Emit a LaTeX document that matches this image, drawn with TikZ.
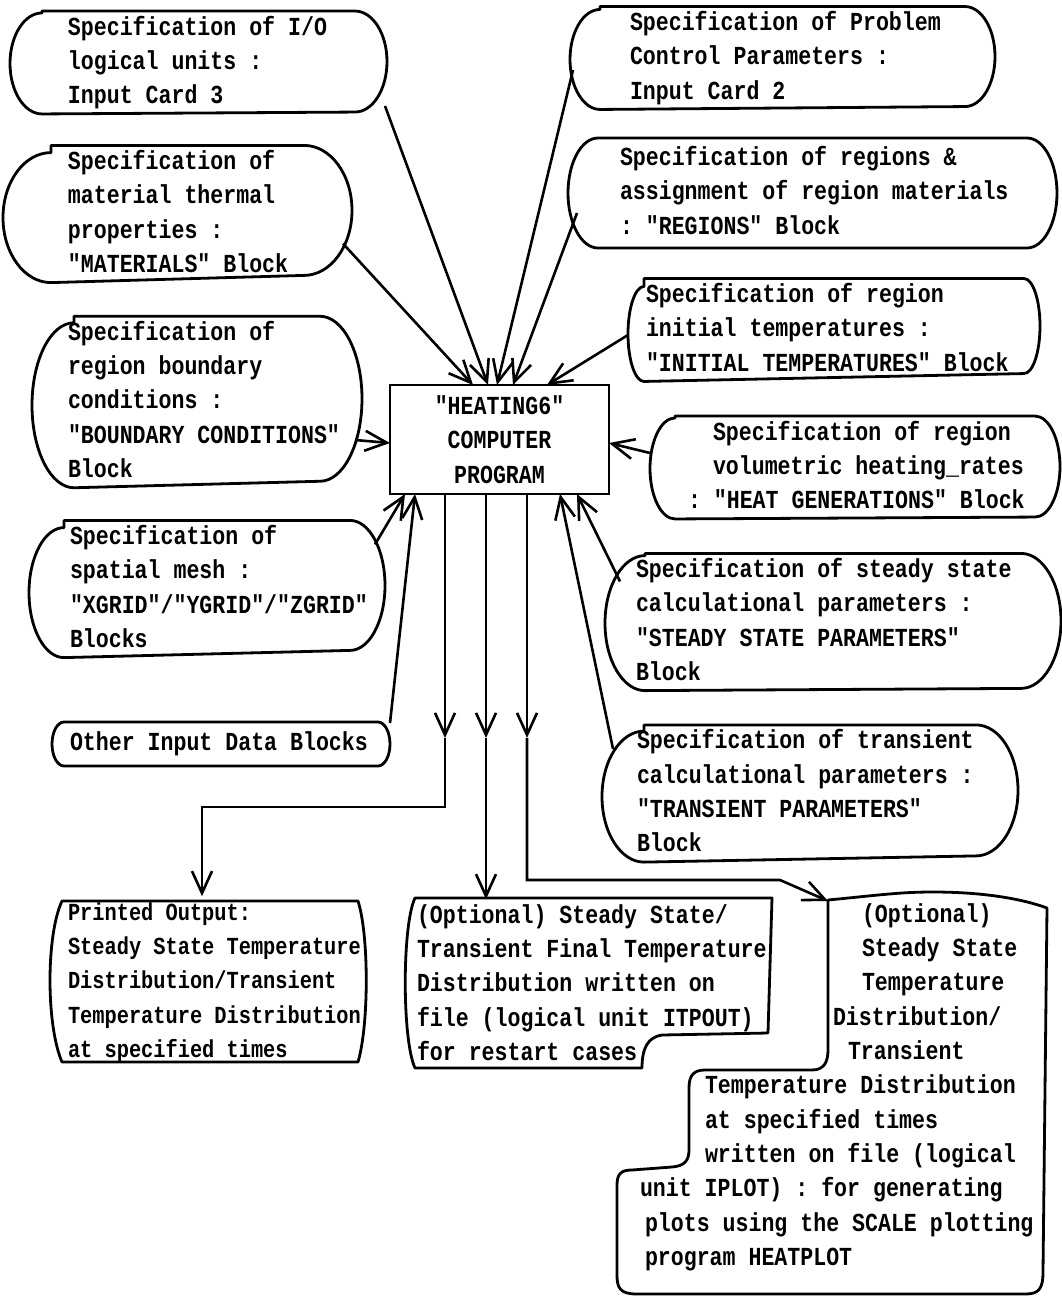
\documentclass[tikz,border=0pt]{standalone}
\usepackage{fontspec}
\setmonofont[FakeStretch=0.83]{Liberation Mono}
\usetikzlibrary{arrows.meta,calc}
\newcommand\boxtext[3]{\makebox[#1pt][l]{\hspace*{#2pt}\begin{tabular}[c]{@{}l@{}}#3\end{tabular}}}
\newcommand\stadium[3]{%
  \draw[outline] ($(#1.north west)+(#2,0)$) -- ($(#1.north east)+(-#2,0)$)
    arc[start angle=90,end angle=-90,x radius=#2,y radius=#3]
    -- ($(#1.south west)+(#2,0)$)
    arc[start angle=270,end angle=90,x radius=#2,y radius=#3] -- cycle;}
\begin{document}
\begin{tikzpicture}[x=1pt,y=1pt,
  boxnode/.style={inner sep=0pt,outer sep=0pt,font=\ttfamily\bfseries\fontsize{26}{34.3}\selectfont},
  outline/.style={line width=2.8pt,line join=round},
  conn/.style={line width=2.6pt},
  arr/.style={-{Straight Barb[length=22pt,width=20pt,line width=2.6pt]}}]
\path[fill=white,use as bounding box] (0,0) rectangle (1061,-1302);

% left column
\node[boxnode,minimum width=377pt,minimum height=101pt] (io) at (198.5,-62.5)
  {\boxtext{377}{58}{Specification of I/O\\logical units :\\Input Card 3}};
\stadium{io}{32}{50.5}
\node[boxnode,minimum width=349pt,minimum height=130pt] (mat) at (177.5,-214)
  {\boxtext{349}{65}{Specification of\\material thermal\\properties :\\"MATERIALS" Block}};
\stadium{mat}{48}{65}
\node[boxnode,minimum width=330pt,minimum height=165pt] (bc) at (197,-402)
  {\boxtext{330}{36}{Specification of\\region boundary\\conditions :\\"BOUNDARY CONDITIONS"\\Block}};
\stadium{bc}{42}{82.5}
\node[boxnode,minimum width=356pt,minimum height=130pt] (mesh) at (207,-589)
  {\boxtext{356}{41}{Specification of\\spatial mesh :\\"XGRID"/"YGRID"/"ZGRID"\\Blocks}};
\stadium{mesh}{35}{65}
\node[boxnode,minimum width=338pt,minimum height=44pt] (other) at (221,-744)
  {\boxtext{338}{18}{Other Input Data Blocks}};
\stadium{other}{12}{22}

% right column
\node[boxnode,minimum width=425pt,minimum height=100pt] (pcp) at (782.5,-58)
  {\boxtext{425}{60}{Specification of Problem\\Control Parameters :\\Input Card 2}};
\stadium{pcp}{30}{50}
\node[boxnode,minimum width=489pt,minimum height=110pt] (reg) at (812.5,-193)
  {\boxtext{489}{52}{Specification of regions \&\\assignment of region materials\\: "REGIONS" Block}};
\stadium{reg}{30}{55}
\node[boxnode,minimum width=412pt,minimum height=95pt] (init) at (834,-330)
  {\boxtext{412}{18}{Specification of region\\initial temperatures :\\"INITIAL TEMPERATURES" Block}};
\stadium{init}{16}{47.5}
\node[boxnode,minimum width=410pt,minimum height=101pt] (heat) at (855,-467.5)
  {\boxtext{410}{38}{\hspace*{25pt}Specification of region\\\hspace*{25pt}volumetric heating\_rates\\: "HEAT GENERATIONS" Block}};
\stadium{heat}{25}{50.5}
\node[boxnode,minimum width=456pt,minimum height=135pt] (ss) at (833,-622)
  {\boxtext{456}{31}{Specification of steady state\\calculational parameters :\\"STEADY STATE PARAMETERS"\\Block}};
\stadium{ss}{40}{67.5}
\node[boxnode,minimum width=416pt,minimum height=131pt] (tr) at (810,-793.5)
  {\boxtext{416}{35}{Specification of transient\\calculational parameters :\\"TRANSIENT PARAMETERS"\\Block}};
\stadium{tr}{42}{65.5}

% program
\node[boxnode,draw,line width=2.8pt,minimum width=219pt,minimum height=109pt,align=center] (prog) at (499.5,-439.5)
  {"HEATING6"\\COMPUTER\\PROGRAM};

% outputs
\node[boxnode,minimum width=296pt,minimum height=158pt] (out1) at (210,-982)
  {\fontsize{24.5}{34.3}\selectfont\boxtext{296}{6}{Printed Output:\\Steady State Temperature\\Distribution/Transient\\Temperature Distribution\\at specified times}};
\draw[outline] (62,-901) -- (358,-901) .. controls (369,-935) and (369,-1025) .. (358,-1062)
  -- (62,-1062) .. controls (46,-1025) and (46,-935) .. (62,-901) -- cycle;

\node[boxnode,minimum width=357pt,minimum height=170pt] (out2) at (593.5,-985)
  {\boxtext{357}{2}{(Optional) Steady State/\\Transient Final Temperature\\Distribution written on\\file (logical unit ITPOUT)\\for restart cases}};
\draw[outline] (415,-898) -- (772,-898) -- (768,-1033) -- (662,-1035)
  .. controls (648,-1037) and (642,-1048) .. (642,-1068) -- (415,-1068)
  .. controls (402,-1040) and (402,-925) .. (415,-898) -- cycle;

\node[boxnode,minimum width=430pt,minimum height=380pt] (out3) at (832,-1087)
  {\boxtext{430}{23}{\hspace*{222pt}(Optional)\\\hspace*{222pt}Steady State\\\hspace*{222pt}Temperature\\\hspace*{193pt}Distribution/\\\hspace*{208pt}Transient\\\hspace*{65pt}Temperature Distribution\\\hspace*{65pt}at specified times\\\hspace*{65pt}written on file (logical\\unit IPLOT) : for generating\\\hspace*{5pt}plots using the SCALE plotting\\\hspace*{5pt}program HEATPLOT}};
\draw[outline] (828,-900) .. controls (880,-895) and (900,-892) .. (933,-892)
  .. controls (980,-892) and (1020,-898) .. (1047,-908) -- (1043,-1272)
  .. controls (1043,-1290) and (1038,-1294) .. (1025,-1294) -- (637,-1294)
  .. controls (620,-1294) and (617,-1288) .. (617,-1275) -- (617,-1185)
  .. controls (617,-1173) and (622,-1170) .. (632,-1170) -- (672,-1167)
  .. controls (685,-1166) and (689,-1160) .. (689,-1150) -- (689,-1088)
  .. controls (689,-1075) and (694,-1070) .. (705,-1070) -- (812,-1070)
  .. controls (824,-1070) and (828,-1062) .. (828,-1050) -- cycle;

% input connectors
\draw[conn,arr] ($(io.south east)+(-2,8)$) -- ($(prog.north west)+(98,0)$);
\draw[conn,arr] ($(mat.south east)+(-9,39)$) -- ($(prog.north west)+(83,0)$);
\draw[conn,arr] ($(pcp.west)+(3,-12)$) -- ($(prog.north west)+(107,0)$);
\draw[conn,arr] ($(reg.west)+(9,-20)$) -- ($(prog.north west)+(123,0)$);
\draw[conn,arr] ($(init.west)+(0,-5)$) -- ($(prog.north west)+(157,0)$);
\draw[conn,arr] ($(heat.west)+(0,14.5)$) -- ($(prog.east)+(0,-3.5)$);
\draw[conn,arr] ($(bc.east)+(-7,-38)$) -- ($(prog.west)+(0,-3.5)$);
\draw[conn,arr] ($(mesh.north east)+(-10,-24)$) -- ($(prog.south west)+(15,0)$);
\draw[conn,arr] ($(other.north east)+(0,-1)$) -- ($(prog.south west)+(25,0)$);
\draw[conn,arr] ($(ss.north west)+(15,-28)$) -- ($(prog.south east)+(-32,0)$);
\draw[conn,arr] ($(tr.north west)+(11,-24)$) -- ($(prog.south east)+(-49,0)$);

% output connectors
\coordinate (m1) at ($(prog.south west)+(55,-244)$);
\coordinate (m2) at ($(prog.south west)+(96,-244)$);
\coordinate (m3) at ($(prog.south west)+(137,-244)$);
\draw[conn,arr] ($(prog.south west)+(55,0)$) -- (m1);
\draw[conn,arr] (m1) -- ++(0,-69) -| ($(out1.north)+(-8,0)$);
\draw[conn,arr] ($(prog.south west)+(96,0)$) -- (m2);
\draw[conn,arr] (m2) -- (m2 |- out2.north);
\draw[conn,arr] ($(prog.south west)+(137,0)$) -- (m3);
\draw[conn,arr] (m3) -- ++(0,-142) -- ++(253,0) -- ($(out3.north west)+(211,-4)$);
\end{tikzpicture}
\end{document}
